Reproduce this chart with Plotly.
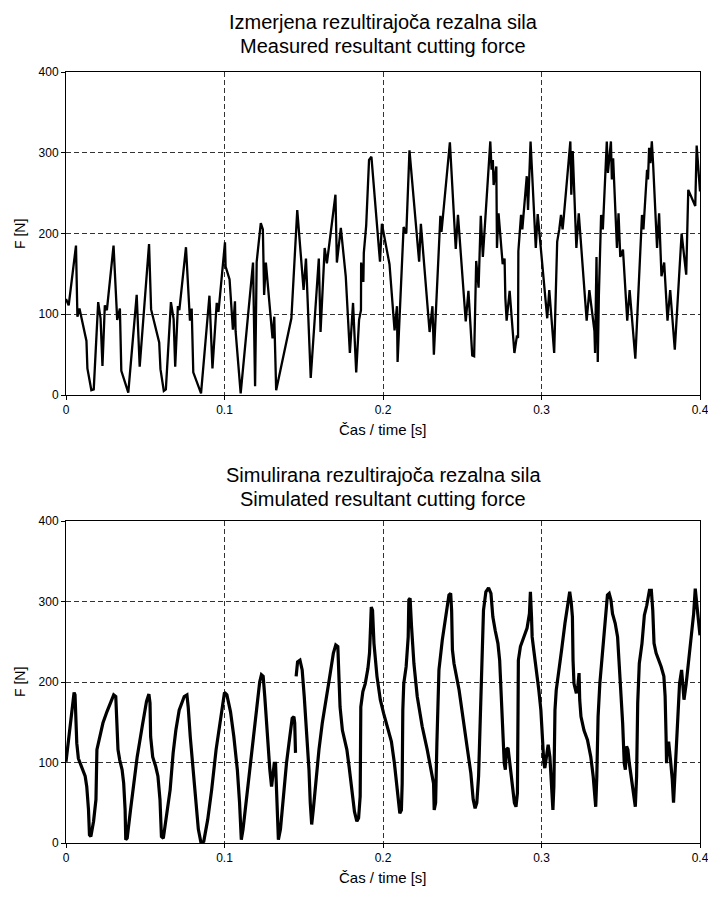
import plotly.graph_objects as go
from plotly.subplots import make_subplots

# ---------------- data ----------------
meas_t = [0, 0.0017, 0.0063, 0.0072, 0.0085, 0.0129, 0.0135, 0.016, 0.0175, 0.0203,
          0.0218, 0.023, 0.0245, 0.0258, 0.030, 0.0323, 0.034, 0.0349, 0.0393, 0.0446,
          0.0465, 0.0524, 0.0537, 0.0588, 0.0596, 0.0617, 0.063, 0.0662, 0.0679, 0.0689,
          0.0706, 0.0715, 0.0757, 0.0782, 0.0793, 0.0803, 0.0852, 0.0905, 0.0924, 0.0951,
          0.0962, 0.1003, 0.1007, 0.1032, 0.1053, 0.1066, 0.107, 0.1102, 0.118, 0.1193,
          0.1203, 0.1229, 0.1242, 0.125, 0.1261, 0.1303, 0.1314, 0.1326, 0.1422, 0.1459,
          0.1499, 0.1514, 0.1544, 0.1595, 0.1606, 0.1632, 0.1646, 0.17, 0.1709, 0.1734,
          0.1765, 0.1791, 0.1811, 0.1831, 0.1849, 0.1861, 0.1862, 0.1876, 0.1879, 0.1894,
          0.1912, 0.1927, 0.1981, 0.1993, 0.2041, 0.2073, 0.2088, 0.2092, 0.213, 0.2147,
          0.2167, 0.2228, 0.2239, 0.2294, 0.2312, 0.2321, 0.2362, 0.2369, 0.2422, 0.2459,
          0.2473, 0.2522, 0.2539, 0.2554, 0.2563, 0.2575, 0.2588, 0.2603, 0.2617, 0.263,
          0.2677, 0.2685, 0.2693, 0.2698, 0.2715, 0.2719, 0.2729, 0.2755, 0.2767, 0.2772,
          0.278, 0.2799, 0.2829, 0.2844, 0.2852, 0.2854, 0.2871, 0.2879, 0.2907, 0.2915,
          0.2931, 0.2964, 0.2976, 0.3036, 0.3049, 0.308, 0.3095, 0.3099, 0.3112, 0.3123,
          0.3133, 0.314, 0.3182, 0.3188, 0.3197, 0.322, 0.3235, 0.3285, 0.3302, 0.3334,
          0.3338, 0.3347, 0.3355, 0.3362, 0.3376, 0.3387, 0.3412, 0.3419, 0.3438, 0.3444,
          0.3452, 0.3476, 0.3486, 0.3497, 0.3514, 0.3541, 0.3556, 0.3592, 0.3634, 0.3643,
          0.3666, 0.3672, 0.3679, 0.3687, 0.3696, 0.3704, 0.3729, 0.3742, 0.3757, 0.3774,
          0.3795, 0.3812, 0.3841, 0.3884, 0.3913, 0.3926, 0.397, 0.3979, 0.4]
meas_f = [119, 111, 185, 97, 107, 67, 33, 6, 7, 115,
          95, 36, 111, 105, 185, 93, 107, 30, 3, 124,
          35, 187, 106, 65, 32, 5, 7, 115, 94, 35,
          110, 105, 183, 92, 107, 28, 2, 123, 33, 114,
          103, 189, 159, 143, 81, 116, 79, 2, 164, 11,
          165, 213, 205, 124, 164, 70, 97, 6, 95, 229,
          130, 169, 21, 169, 78, 182, 163, 248, 164, 207,
          147, 52, 114, 28, 93, 105, 164, 140, 176, 210,
          291, 295, 165, 212, 162, 80, 110, 41, 208, 200,
          303, 165, 212, 78, 110, 50, 222, 202, 313, 181,
          223, 91, 129, 69, 49, 48, 166, 133, 222, 171,
          314, 279, 291, 260, 283, 182, 225, 162, 169, 120,
          92, 129, 52, 72, 71, 178, 223, 205, 271, 229,
          314, 182, 224, 95, 130, 52, 140, 190, 205, 223,
          205, 219, 314, 248, 302, 182, 225, 92, 130, 79,
          52, 171, 41, 124, 223, 205, 314, 275, 314, 267,
          293, 182, 225, 171, 180, 92, 130, 45, 223, 205,
          279, 267, 306, 287, 314, 287, 182, 225, 147, 164,
          92, 130, 56, 200, 149, 254, 234, 309, 252]

sim_t = [0, 0.0025, 0.0051, 0.0057, 0.0068, 0.0078, 0.01, 0.0121, 0.0131, 0.0142,
         0.0148, 0.0157, 0.0174, 0.0189, 0.0195, 0.0212, 0.0233, 0.0258, 0.028, 0.0301,
         0.0314, 0.0322, 0.0328, 0.0339, 0.0354, 0.0364, 0.0373, 0.0377, 0.0386, 0.0407,
         0.0428, 0.0449, 0.0481, 0.0508, 0.0523, 0.053, 0.0534, 0.0547, 0.0566, 0.058,
         0.0593, 0.0602, 0.0614, 0.0636, 0.0657, 0.0676, 0.0693, 0.0714, 0.0746, 0.0763,
         0.0771, 0.0784, 0.0799, 0.0816, 0.0835, 0.0852, 0.0869, 0.0894, 0.0919, 0.0947,
         0.0975, 0.1, 0.1015, 0.1038, 0.1059, 0.1081, 0.1095, 0.1106, 0.1117, 0.1138,
         0.1159, 0.118, 0.1201, 0.1222, 0.1233, 0.1244, 0.1254, 0.1271, 0.1286, 0.1297,
         0.1305, 0.1314, 0.1322, 0.1331, 0.1340, 0.1353, 0.137, 0.1391, 0.1412, 0.1427,
         0.1438, 0.1443, 0.1448, None, 0.1452, 0.1461, 0.1476, 0.149, 0.1503, 0.1518,
         0.1533, 0.1541, 0.155, 0.156, 0.1575, 0.1596, 0.1617, 0.1638, 0.166, 0.1687,
         0.1702, 0.1715, 0.1723, 0.1729, 0.1744, 0.1772, 0.1786, 0.1803, 0.182, 0.1835,
         0.1846, 0.1856, 0.1858, 0.186, 0.1873, 0.1888, 0.1905, 0.1915, 0.1922, 0.1926,
         0.1934, 0.1943, 0.1962, 0.1983, 0.2004, 0.2025, 0.2053, 0.2072, 0.2089, 0.2099,
         0.2106, 0.2116, 0.2121, 0.2125, 0.2131, 0.2146, 0.2159, 0.2163, 0.2171, 0.218,
         0.2195, 0.2216, 0.2247, 0.2279, 0.2307, 0.2319, 0.2323, 0.2332, 0.234, 0.2353,
         0.2374, 0.2395, 0.2416, 0.2427, 0.2433, 0.2438, 0.2448, 0.248, 0.2497, 0.2512,
         0.2533, 0.2554, 0.2569, 0.2581, 0.2592, 0.2603, 0.2611, 0.2621, 0.2627, 0.2634,
         0.2649, 0.2666, 0.2681, 0.2693, 0.2708, 0.2725, 0.2736, 0.2744, 0.2755, 0.2765,
         0.2772, 0.2778, 0.2789, 0.2797, 0.2808, 0.2818, 0.2829, 0.2839, 0.2848, 0.2852,
         0.2854, 0.2867, 0.2888, 0.2909, 0.2924, 0.293, 0.2937, 0.2941, 0.2951, 0.2966,
         0.2983, 0.2996, 0.3004, 0.3015, 0.3021, 0.3032, 0.3042, 0.3053, 0.3059, 0.3068,
         0.3072, 0.3078, 0.3085, 0.3093, 0.3106, 0.3127, 0.3148, 0.3169, 0.3178, 0.3188,
         0.3195, 0.3199, 0.3205, 0.322, 0.323, 0.3237, 0.3241, 0.3249, 0.3268, 0.329,
         0.3311, 0.3326, 0.3336, 0.3342, 0.3349, 0.3357, 0.3368, 0.3385, 0.3402, 0.3416,
         0.3427, 0.3438, 0.3448, 0.3465, 0.348, 0.349, 0.3501, 0.3512, 0.3522, 0.3529,
         0.3537, 0.3545, 0.3554, 0.3567, 0.3579, 0.3592, 0.36, 0.3607, 0.3617, 0.3634,
         0.3649, 0.3664, 0.3681, 0.3693, 0.3702, 0.371, 0.3723, 0.3755, 0.3772, 0.378,
         0.3786, 0.3789, 0.3793, 0.3803, 0.3814, 0.3825, 0.3833, 0.3841, 0.3856, 0.3871,
         0.3884, 0.3892, 0.3899, 0.3913, 0.393, 0.3945, 0.396, 0.397, 0.3981, 0.3994,
         0.4]
sim_f = [101, 140, 187, 184, 124, 105, 93, 83, 70, 41,
         10, 8, 27, 54, 116, 132, 149, 163, 174, 184,
         182, 145, 116, 103, 91, 74, 41, 4, 6, 41,
         74, 107, 145, 176, 185, 174, 132, 107, 95, 83,
         54, 8, 6, 35, 66, 112, 140, 165, 182, 184,
         169, 132, 95, 54, 17, 0, 2, 29, 66, 116,
         157, 187, 184, 163, 132, 91, 50, 4, 17, 54,
         87, 124, 165, 200, 209, 207, 182, 128, 91, 70,
         83, 99, 99, 58, 4, 17, 58, 99, 132, 155,
         157, 149, 112, None, 207, 225, 227, 215, 182, 140,
         91, 50, 23, 41, 74, 116, 149, 178, 202, 236,
         246, 244, 211, 169, 140, 116, 95, 66, 39, 27,
         31, 58, 107, 169, 188, 198, 217, 236, 271, 293,
         289, 248, 207, 178, 161, 145, 126, 99, 70, 50,
         37, 41, 74, 165, 198, 219, 256, 302, 304, 269,
         223, 182, 145, 116, 87, 74, 41, 50, 124, 215,
         252, 281, 308, 310, 289, 240, 223, 190, 165, 140,
         116, 87, 54, 43, 50, 83, 140, 198, 264, 289,
         312, 317, 310, 281, 264, 248, 227, 190, 140, 99,
         91, 116, 118, 103, 83, 62, 50, 45, 62, 165,
         227, 244, 256, 267, 285, 312, 281, 256, 240, 219,
         190, 165, 132, 99, 93, 107, 122, 107, 83, 45,
         41, 70, 165, 190, 207, 240, 273, 302, 312, 298,
         281, 227, 198, 186, 196, 211, 178, 157, 140, 128,
         107, 83, 50, 45, 83, 157, 198, 236, 277, 308,
         310, 302, 285, 273, 256, 227, 190, 149, 99, 91,
         120, 116, 99, 79, 58, 45, 83, 174, 223, 248,
         283, 295, 314, 314, 289, 248, 236, 219, 207, 182,
         132, 99, 124, 124, 103, 79, 50, 83, 149, 198,
         215, 190, 178, 198, 227, 256, 285, 316, 289, 269,
         258]

x_ticks = [0, 0.1, 0.2, 0.3, 0.4]
x_tick_text = ["0", "0.1", "0.2", "0.3", "0.4"]
y_ticks = [0, 100, 200, 300, 400]
y_tick_text = ["0", "100", "200", "300", "400"]

titles_top = ["Izmerjena rezultirajoča rezalna sila", "Measured resultant cutting force"]
titles_bottom = ["Simulirana rezultirajoča rezalna sila", "Simulated resultant cutting force"]
x_label = "Čas / time [s]"
y_label = "F [N]"

# ---------------- figure ----------------
# the page body has an 8px margin, so the figure is offset by 8px inside the window
OFF = 8
W, H = 716 - OFF, 898 - OFF
FONT = "Liberation Sans, Arial, sans-serif"

def fx(px):
    return (px - OFF) / W

def fy(py):
    return 1 - (py - OFF) / H

fig = make_subplots(rows=2, cols=1)
fig.add_trace(go.Scatter(x=meas_t, y=meas_f, mode="lines",
                         line=dict(color="black", width=2.3), showlegend=False),
              row=1, col=1)
fig.add_trace(go.Scatter(x=sim_t, y=sim_f, mode="lines",
                         line=dict(color="black", width=3.2), connectgaps=False,
                         showlegend=False),
              row=2, col=1)

xdom = [fx(66), fx(700)]
ydom_top = [fy(395), fy(72)]
ydom_bot = [fy(843), fy(521)]

axis_common = dict(showline=True, mirror=True, linecolor="black", linewidth=1,
                   showgrid=True, gridcolor="#333333", griddash="5px,3px", gridwidth=1,
                   zeroline=False, ticks="outside", ticklen=4, tickcolor="black",
                   automargin=False,
                   tickfont=dict(family=FONT, size=12, color="black"))

fig.update_xaxes(range=[0, 0.4], tickvals=x_ticks, ticktext=x_tick_text,
                 domain=xdom, **axis_common)
fig.update_yaxes(range=[0, 400], tickvals=y_ticks, ticktext=y_tick_text, **axis_common)
fig.update_layout(yaxis=dict(domain=ydom_top), yaxis2=dict(domain=ydom_bot))

ann = []
cx = fx(383)
def add_text(txt, x, y, size, angle=0):
    ann.append(dict(text=txt, x=x, y=y, xref="paper", yref="paper",
                    xanchor="center", yanchor="middle", showarrow=False,
                    textangle=angle, font=dict(family=FONT, size=size, color="black")))

add_text(titles_top[0], cx, fy(22), 20)
add_text(titles_top[1], cx, fy(46), 20)
add_text(titles_bottom[0], cx, fy(475), 20)
add_text(titles_bottom[1], cx, fy(499), 20)
add_text(x_label, cx, fy(429), 15)
add_text(x_label, cx, fy(877), 15)
add_text(y_label, fx(20), fy(234), 14, -90)
add_text(y_label, fx(20), fy(682), 14, -90)

fig.update_layout(width=W, height=H, margin=dict(l=0, r=0, t=0, b=0),
                  paper_bgcolor="white", plot_bgcolor="white",
                  annotations=ann, font=dict(family=FONT, color="black"))

fig.write_html("out.html")
